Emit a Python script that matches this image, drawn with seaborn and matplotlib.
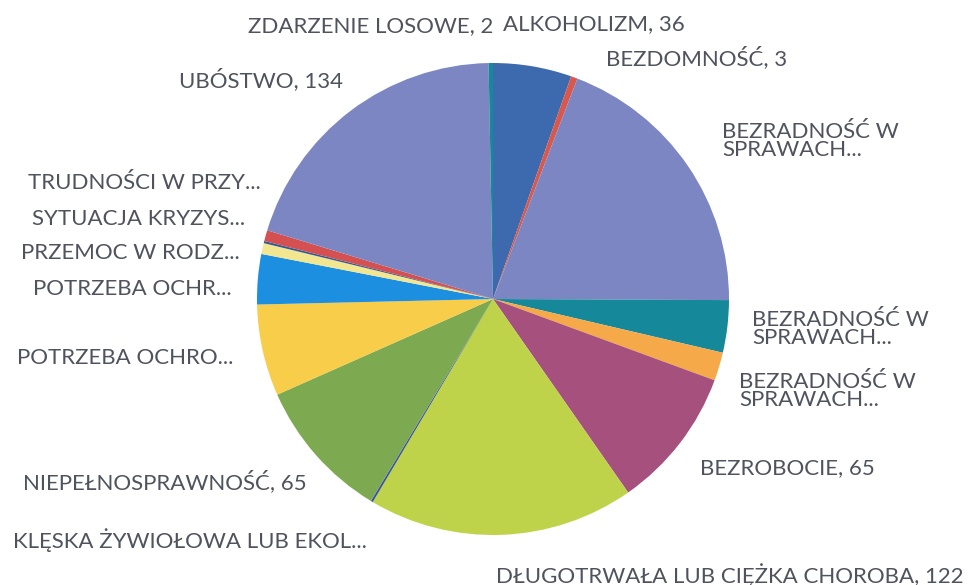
import matplotlib
matplotlib.use('Agg')
import matplotlib.pyplot as plt
import seaborn as sns

# data (clockwise from 12 o'clock)
categories = ['ALKOHOLIZM', 'BEZDOMNOŚĆ', 'BEZRADNOŚĆ W SPRAWACH A', 'BEZRADNOŚĆ W SPRAWACH B',
              'BEZRADNOŚĆ W SPRAWACH C', 'BEZROBOCIE', 'DŁUGOTRWAŁA LUB CIĘŻKA CHOROBA',
              'KLĘSKA ŻYWIOŁOWA LUB EKOL', 'NIEPEŁNOSPRAWNOŚĆ', 'POTRZEBA OCHRO', 'POTRZEBA OCHR',
              'PRZEMOC W RODZ', 'SYTUACJA KRYZYS', 'TRUDNOŚCI W PRZY', 'UBÓSTWO', 'ZDARZENIE LOSOWE']
values = [36, 3, 129, 24, 13, 65, 122, 1, 65, 42, 23, 5, 1, 5, 134, 2]
labels = ['ALKOHOLIZM, 36', 'BEZDOMNOŚĆ, 3', 'BEZRADNOŚĆ W\nSPRAWACH...', 'BEZRADNOŚĆ W\nSPRAWACH...',
          'BEZRADNOŚĆ W\nSPRAWACH...', 'BEZROBOCIE, 65', 'DŁUGOTRWAŁA LUB CIĘŻKA CHOROBA, 122',
          'KLĘSKA ŻYWIOŁOWA LUB EKOL...', 'NIEPEŁNOSPRAWNOŚĆ, 65', 'POTRZEBA OCHRO...', 'POTRZEBA OCHR...',
          'PRZEMOC W RODZ...', 'SYTUACJA KRYZYS...', 'TRUDNOŚCI W PRZY...', 'UBÓSTWO, 134',
          'ZDARZENIE LOSOWE, 2']

colors = ['#3d6aae', '#d9584e', '#7c86c2', '#15889a', '#f5a948', '#a6507e', '#bfd34a', '#3a55a0',
          '#7daa50', '#f8cd4a', '#1c8fe0', '#f3e690', '#2e5c9a', '#d55050', '#7c86c2', '#15889a']

# label anchors in pixels (x, y from top, horizontal alignment)
label_pos = [(594, 24, 'center'), (697, 58, 'center'), (722, 141, 'left'), (752, 329, 'left'),
             (739, 391, 'left'), (787, 468, 'center'), (730, 575, 'center'), (190, 540, 'center'),
             (165, 482, 'center'), (125, 358, 'center'), (132, 289, 'center'), (130, 253, 'center'),
             (139, 219, 'center'), (144, 183, 'center'), (261, 80, 'center'), (371, 26, 'center')]

sns.set_theme(style='white')
plt.rcParams['font.family'] = ['Lato', 'DejaVu Sans']

W, H = 969, 585
fig = plt.figure(figsize=(W / 100, H / 100), dpi=100)
cx, cy, r = 493, 299, 236
ax = fig.add_axes([(cx - r) / W, (H - cy - r) / H, 2 * r / W, 2 * r / H])

ax.pie(values, colors=sns.color_palette(colors), startangle=90, counterclock=False,
       wedgeprops={'linewidth': 0})
ax.set_xlim(-1, 1)
ax.set_ylim(-1, 1)
ax.set_axis_off()

for lab, (x, y, ha) in zip(labels, label_pos):
    fig.text(x / W, 1 - y / H, lab, ha=ha, va='center', fontsize=16,
             color='#50525e', linespacing=0.9, multialignment='left')

fig.savefig('out.png', dpi=100, facecolor='white')
